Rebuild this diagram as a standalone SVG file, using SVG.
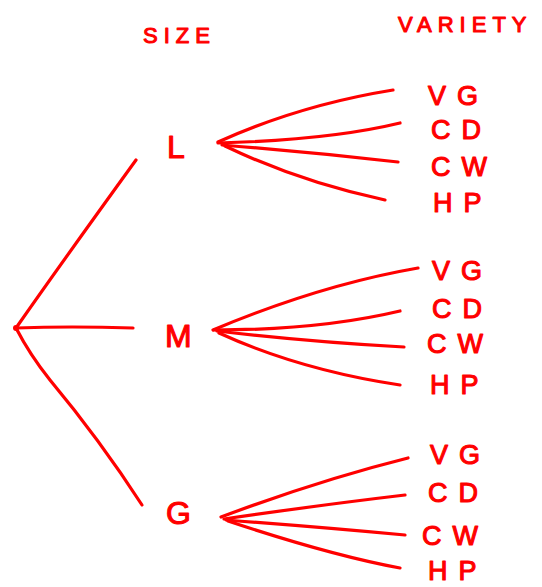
<svg xmlns="http://www.w3.org/2000/svg" width="542" height="587" viewBox="0 0 542 587">
<style>
.ln{fill:none;stroke:#ff0000;stroke-width:3.2;stroke-linecap:round;stroke-linejoin:round}
.t{font-family:"Liberation Sans",Arial,sans-serif;fill:#ff0000;stroke:#ff0000;stroke-width:1.1;stroke-linejoin:round}
.h{font-size:22px;letter-spacing:6px}
.s{font-size:32px}
.v{font-size:27px;letter-spacing:11px}
</style>
<rect width="542" height="587" fill="#ffffff"/>
<g id="headers">
<text class="t h" x="143" y="43">SIZE</text>
<text class="t h" x="398" y="32">VARIETY</text>
</g>
<g id="root"><circle cx="16" cy="328" r="3" fill="#ff0000"/></g>
<g id="connectors">
<path class="ln" d="M16,328 Q60,265 136,160"/>
<path class="ln" d="M16,328 Q70,326 133,328"/>
<path class="ln" d="M16,328 Q30,355 50,380 Q100,440 142,505"/>
<path class="ln" d="M218,142 Q300,105 393,90"/>
<path class="ln" d="M218,143 Q330,140 400,123"/>
<path class="ln" d="M222,145 Q310,152 398,162"/>
<path class="ln" d="M225,146 Q300,182 385,200"/>
<path class="ln" d="M213,330 Q320,285 418,268"/>
<path class="ln" d="M214,330 Q320,330 400,311"/>
<path class="ln" d="M217,331 Q310,342 404,347"/>
<path class="ln" d="M219,333 Q300,370 400,385"/>
<path class="ln" d="M221,517 Q320,480 408,458"/>
<path class="ln" d="M224,519 Q320,505 405,495"/>
<path class="ln" d="M226,520 Q320,527 405,535"/>
<path class="ln" d="M228,521 Q330,555 400,568"/>
</g>
<g id="L"><text class="t s" x="167" y="158">L</text></g>
<g id="M"><text class="t s" x="165" y="347">M</text></g>
<g id="G"><text class="t s" x="166" y="524">G</text></g>
<g id="L-VG"><text class="t v" x="428" y="105">VG</text></g>
<g id="L-CD"><text class="t v" x="431" y="139">CD</text></g>
<g id="L-CW"><text class="t v" x="431" y="176">CW</text></g>
<g id="L-HP"><text class="t v" x="433" y="212">HP</text></g>
<g id="M-VG"><text class="t v" x="432" y="280">VG</text></g>
<g id="M-CD"><text class="t v" x="432" y="318">CD</text></g>
<g id="M-CW"><text class="t v" x="427" y="353">CW</text></g>
<g id="M-HP"><text class="t v" x="430" y="394">HP</text></g>
<g id="G-VG"><text class="t v" x="430" y="464">VG</text></g>
<g id="G-CD"><text class="t v" x="428" y="502">CD</text></g>
<g id="G-CW"><text class="t v" x="422" y="545">CW</text></g>
<g id="G-HP"><text class="t v" x="428" y="580">HP</text></g>
</svg>
